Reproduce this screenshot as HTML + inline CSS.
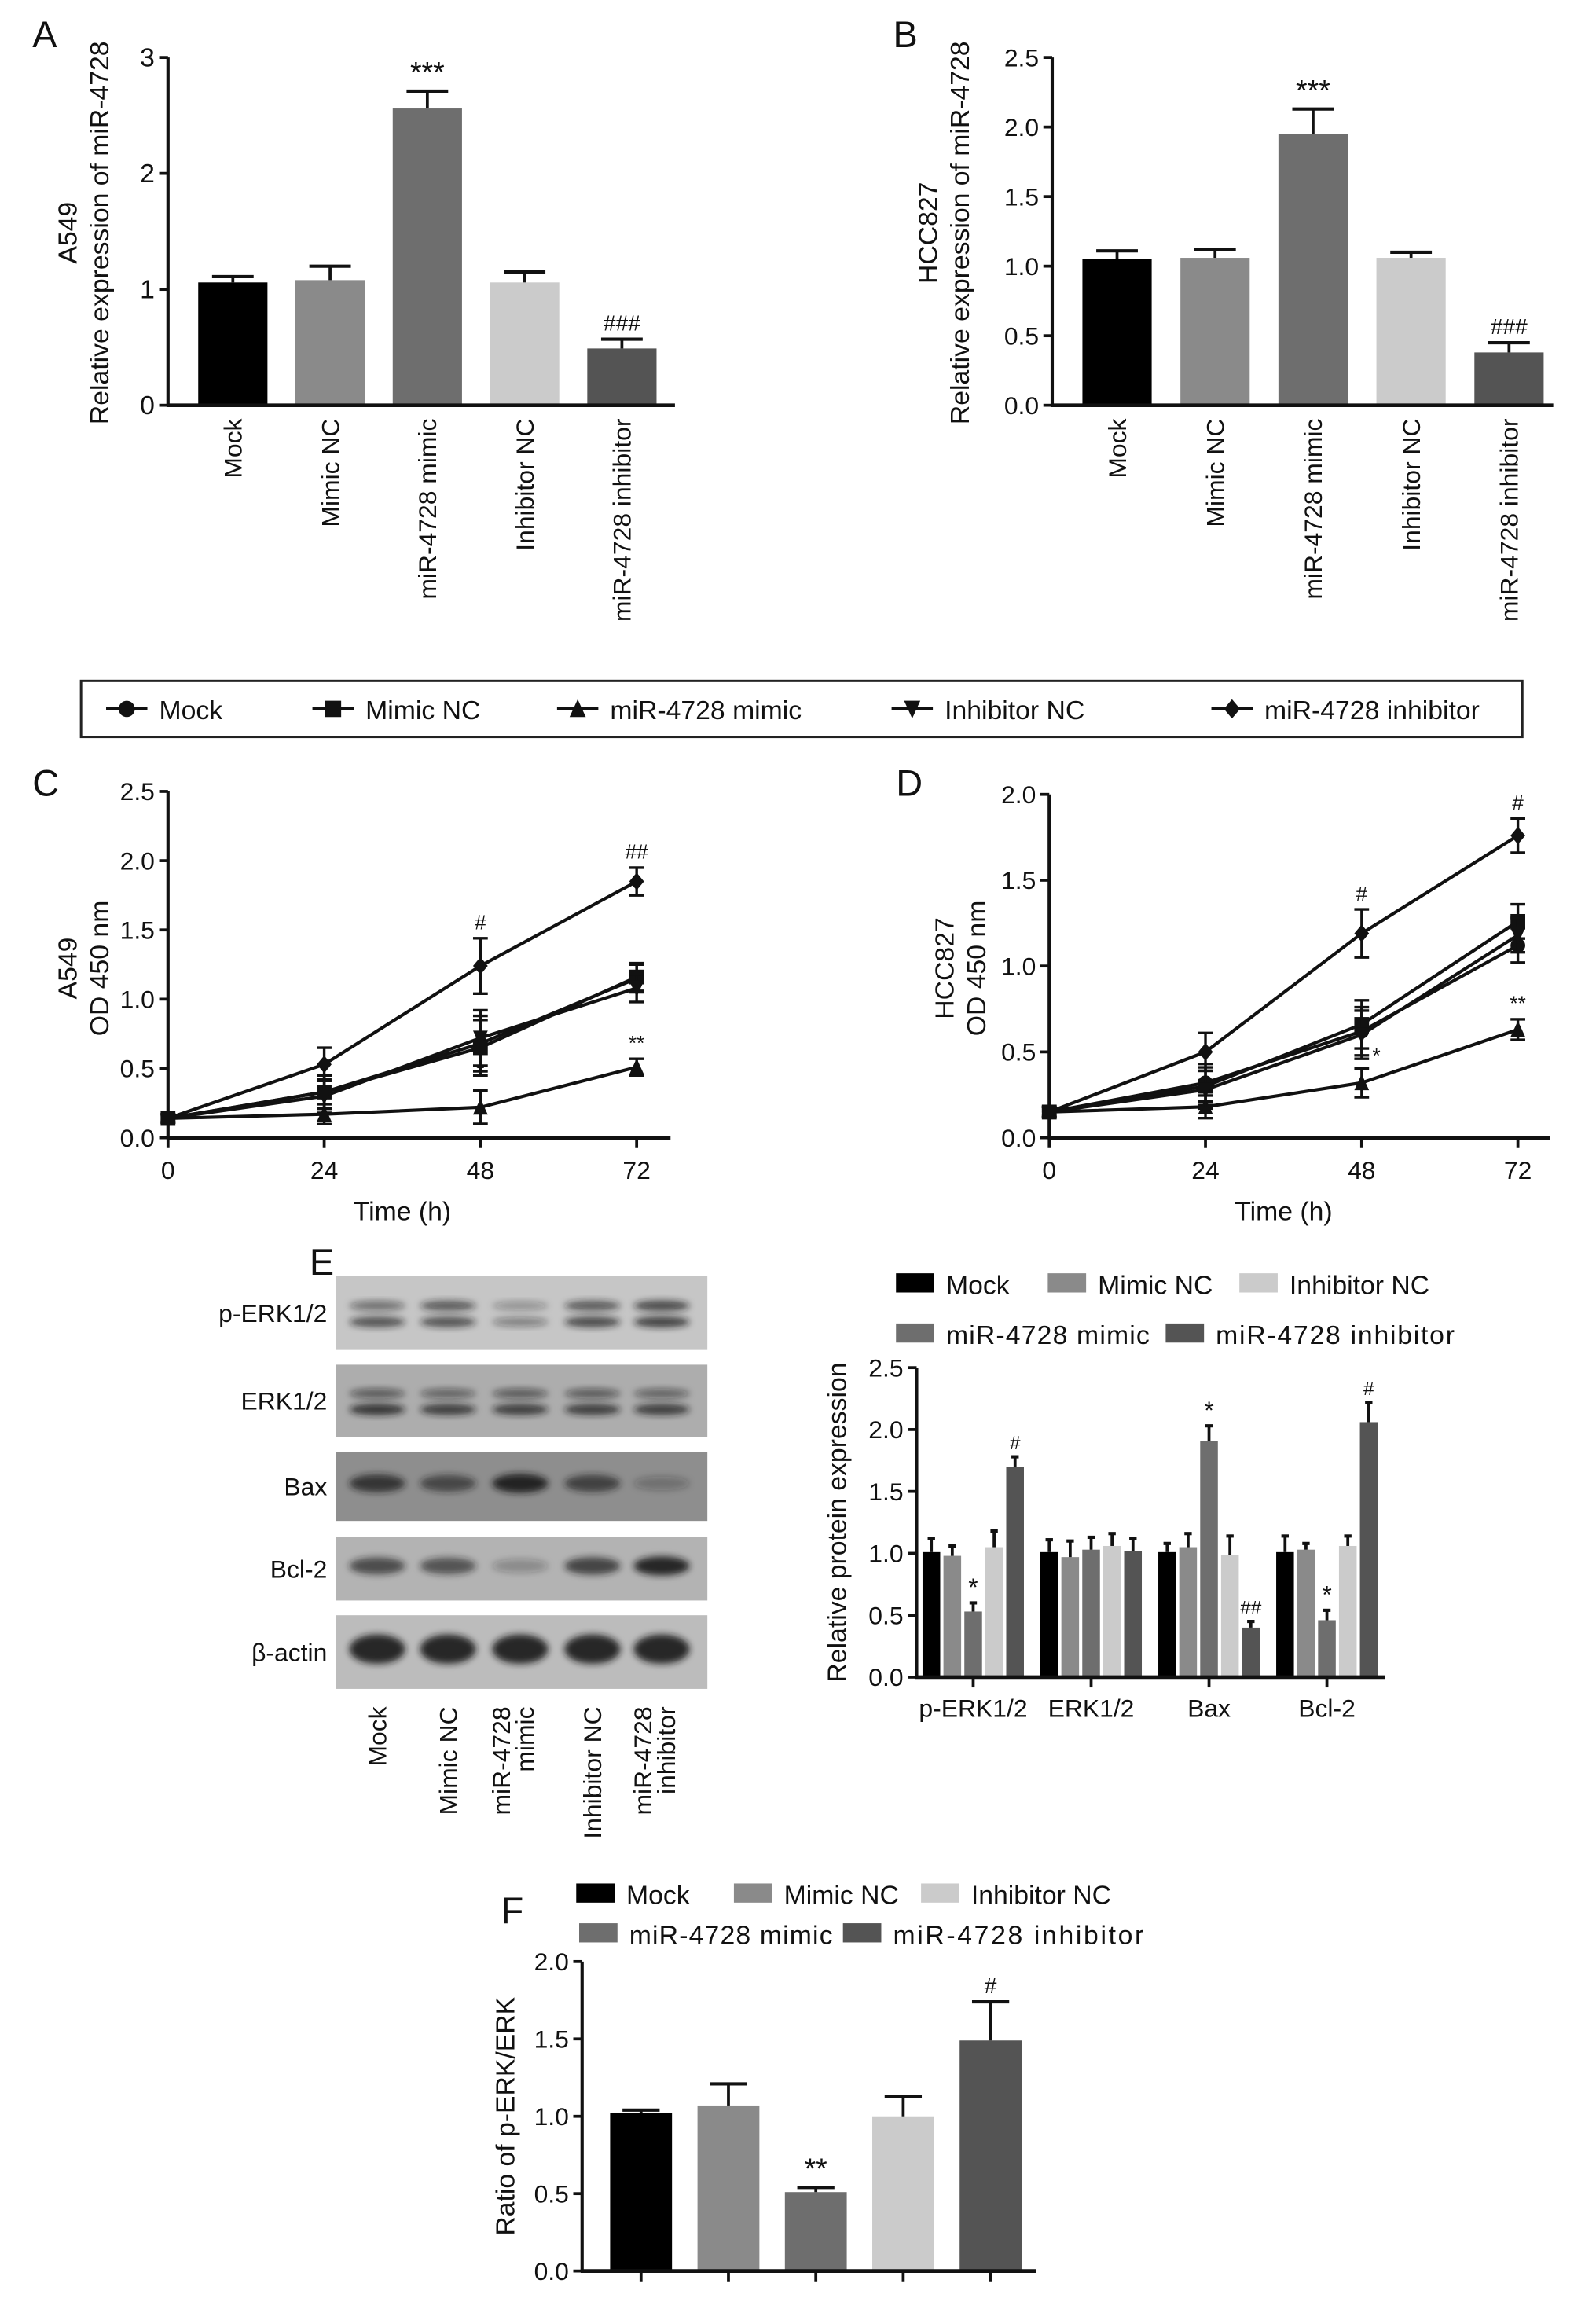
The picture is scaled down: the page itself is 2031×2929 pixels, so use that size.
<!DOCTYPE html>
<html><head><meta charset="utf-8">
<style>
html,body{margin:0;padding:0;background:#fff;}
svg{display:block;font-family:"Liberation Sans",Arial,sans-serif;}
</style></head>
<body>
<svg id="fig" width="2031" height="2929" viewBox="0 0 1083 1562" preserveAspectRatio="none" xmlns="http://www.w3.org/2000/svg">
<defs>
<filter id="blur2" x="-20%" y="-50%" width="140%" height="200%"><feGaussianBlur stdDeviation="2.2"/></filter>
</defs>
<rect width="1083" height="1562" fill="#fff"/>
</svg>
<script>
// ---------- DATA ----------
const groups = ["Mock","Mimic NC","miR-4728 mimic","Inhibitor NC","miR-4728 inhibitor"];
const groupColors = ["#000000","#8a8a8a","#6e6e6e","#cbcbcb","#545454"];

const aValues = [1.06,1.08,2.56,1.06,0.49];
const aErrors = [0.05,0.12,0.15,0.09,0.08];
const aMarks = ["","","***","","###"];
const aTicks = [0,1,2,3];

const bValues = [1.05,1.06,1.95,1.06,0.38];
const bErrors = [0.06,0.06,0.18,0.04,0.07];
const bMarks = ["","","***","","###"];
const bTicks = ["0.0","0.5","1.0","1.5","2.0","2.5"];

const times = [0,24,48,72];
const cMock = [0.14,0.33,0.68,1.15];
const cMimicNC = [0.14,0.33,0.65,1.16];
const cMimic = [0.14,0.17,0.22,0.51];
const cInhNC = [0.14,0.30,0.72,1.08];
const cInh = [0.14,0.53,1.24,1.85];
const cErr = [0.03,0.12,0.2,0.1];
const cTicks = ["0.0","0.5","1.0","1.5","2.0","2.5"];

const dMock = [0.15,0.32,0.62,1.12];
const dMimicNC = [0.15,0.30,0.66,1.26];
const dMimic = [0.15,0.18,0.32,0.63];
const dInhNC = [0.15,0.28,0.60,1.18];
const dInh = [0.15,0.50,1.19,1.76];
const dErr = [0.03,0.11,0.14,0.1];
const dTicks = ["0.0","0.5","1.0","1.5","2.0"];

const eCategories = ["p-ERK1/2","ERK1/2","Bax","Bcl-2"];
const eMock = [1.01,1.01,1.01,1.01];
const eMimicNC = [0.98,0.97,1.05,1.03];
const eMimic = [0.53,1.03,1.91,0.46];
const eInhNC = [1.05,1.06,0.99,1.06];
const eInh = [1.70,1.02,0.40,2.06];
const eErrMock = [0.11,0.1,0.07,0.13];
const eErrMimicNC = [0.08,0.13,0.11,0.05];
const eErrMimic = [0.07,0.1,0.12,0.08];
const eErrInhNC = [0.13,0.1,0.15,0.08];
const eErrInh = [0.08,0.1,0.05,0.16];
const eMarkMimic = ["*","","*","*"];
const eMarkInh = ["#","","##","#"];
const eTicks = ["0.0","0.5","1.0","1.5","2.0","2.5"];

const fValues = [1.02,1.07,0.51,1.00,1.49];
const fErrors = [0.02,0.14,0.03,0.13,0.25];
const fMarks = ["","","**","","#"];
const fTicks = ["0.0","0.5","1.0","1.5","2.0"];

const blotRows = ["p-ERK1/2","ERK1/2","Bax","Bcl-2","β-actin"];

// ---------- HELPERS ----------
const svg = document.getElementById('fig');
const NS = "http://www.w3.org/2000/svg";
function el(tag, attrs, parent){
  const e = document.createElementNS(NS, tag);
  for (const k in attrs) e.setAttribute(k, attrs[k]);
  (parent||svg).appendChild(e);
  return e;
}
function txt(s, x, y, size, anchor, parent, extra){
  const t = el('text', Object.assign({x:x, y:y, 'font-size':size, 'text-anchor':anchor||'start', fill:'#111'}, extra||{}), parent);
  t.textContent = s;
  return t;
}
function group(name){
  const g = el('g', {});
  
  
  return g;
}
function yAxis(g, x, y0, y1, ticks, fs){
  const ax = el('line', {x1:x, y1:y0+1, x2:x, y2:y1, stroke:'#111','stroke-width':2.2}, g);
  
  
  const n = ticks.length;
  ticks.forEach((t,i)=>{
    const y = y0 + (y1-y0)*i/(n-1);
    el('line',{x1:x-6,y1:y,x2:x,y2:y,stroke:'#111','stroke-width':2},g);
    const lab = txt(String(t), x-9, y+6, fs, 'end', g);
    
    
  });
}
function yTitle(g, lines, x, y, fs){
  lines.forEach((l,i)=>{
    const t = txt(l, 0, 0, fs, 'middle', g, {transform:`translate(${x+i*fs*1.2},${y}) rotate(-90)`});
    
    
  });
}
function errBar(g, cx, yTop, yErr, half){
  el('line',{x1:cx,y1:yTop,x2:cx,y2:yErr,stroke:'#111','stroke-width':2},g);
  el('line',{x1:cx-half,y1:yErr,x2:cx+half,y2:yErr,stroke:'#111','stroke-width':2.2},g);
}
function panelLabel(s,x,y){
  const t = txt(s,x,y,25,'start');
  
  
}

// ---------- BAR PANEL (A, B, F) ----------
function barPanel(name, opt, values, errors, marks, ticks){
  const g = group(name);
  const sy = v => opt.y0 - v/opt.max*(opt.y0-opt.y1);
  yAxis(g, opt.ax, opt.y0, opt.y1, ticks, opt.fs);
  values.forEach((v,i)=>{
    const cx = opt.first + i*opt.step;
    const r = el('rect',{x:cx-opt.bw/2, y:sy(v), width:opt.bw, height:opt.y0-sy(v), fill:groupColors[i]}, g);
    
    
    errBar(g, cx, sy(v), sy(v+errors[i]), opt.bw*0.3);
    if (marks[i]) {
      const m = txt(marks[i], cx, sy(v+errors[i])-6, marks[i][0]=='#'?15:20, 'middle', g);
      
      
    }
    if (opt.xlabels){
      const t = txt(groups[i], 0, 0, 17, 'end', g, {transform:`translate(${cx+6},${opt.y0+9}) rotate(-90)`});
      
      
    } else {
      el('line',{x1:cx,y1:opt.y0,x2:cx,y2:opt.y0+7,stroke:'#111','stroke-width':2},g);
    }
  });
  const xa = el('line',{x1:opt.ax-1,y1:opt.y0,x2:opt.xend,y2:opt.y0,stroke:'#111','stroke-width':2.5},g);
  
  
  return g;
}

// Panel A
panelLabel('A', 22, 32);
let gA = barPanel('panel-a-chart',{ax:114,y0:275,y1:39,max:3,first:158,step:66,bw:47,xend:458,fs:18,xlabels:true}, aValues,aErrors,aMarks,aTicks);
yTitle(gA, ["A549","Relative expression of miR-4728"], 52, 158, 18);

// Panel B
panelLabel('B', 606, 32);
let gB = barPanel('panel-b-chart',{ax:714,y0:275,y1:39,max:2.5,first:758,step:66.5,bw:47,xend:1054,fs:17,xlabels:true}, bValues,bErrors,bMarks,bTicks);
yTitle(gB, ["HCC827","Relative expression of miR-4728"], 636, 158, 18);

// ---------- MARKERS ----------
function marker(g, type, x, y, s){
  s = s||5.5;
  let m;
  if (type==='circle') m = el('circle',{cx:x,cy:y,r:s,fill:'#111'},g);
  else if (type==='square') m = el('rect',{x:x-s,y:y-s,width:2*s,height:2*s,fill:'#111'},g);
  else if (type==='up') m = el('polygon',{points:`${x},${y-s-1} ${x-s},${y+s} ${x+s},${y+s}`,fill:'#111'},g);
  else if (type==='down') m = el('polygon',{points:`${x},${y+s+1} ${x-s},${y-s} ${x+s},${y-s}`,fill:'#111'},g);
  else m = el('polygon',{points:`${x},${y-s-1} ${x+s},${y} ${x},${y+s+1} ${x-s},${y}`,fill:'#111'},g);
  
  
}
const markerTypes = ['circle','square','up','down','diamond'];

// Legend for C/D
(function(){
  const g = group('line-legend');
  el('rect',{x:55,y:462,width:978,height:38,fill:'#fff',stroke:'#222','stroke-width':1.6},g);
  const xs = [72,212,378,605,822];
  groups.forEach((n,i)=>{
    const e = el('g',{},g);
    
    
    el('line',{x1:xs[i],y1:481,x2:xs[i]+28,y2:481,stroke:'#111','stroke-width':2.2},e);
    marker(e, markerTypes[i], xs[i]+14, 481, 5.5);
    txt(n, xs[i]+36, 488, 18, 'start', e);
  });
})();

function linePanel(name, opt, series, errs, ticks, marks){
  const g = group(name);
  const sx = t => opt.ax + t/72*(opt.x72-opt.ax);
  const sy = v => opt.y0 - v/opt.max*(opt.y0-opt.y1);
  yAxis(g, opt.ax, opt.y0, opt.y1, ticks, 17);
  const xa = el('line',{x1:opt.ax-1,y1:opt.y0,x2:opt.xend,y2:opt.y0,stroke:'#111','stroke-width':2.5},g);
  
  
  times.forEach(t=>{
    el('line',{x1:sx(t),y1:opt.y0,x2:sx(t),y2:opt.y0+7,stroke:'#111','stroke-width':2},g);
    const l = txt(String(t), sx(t), opt.y0+28, 17, 'middle', g);
    
    
  });
  const xt = txt('Time (h)', (opt.ax+opt.x72)/2, opt.y0+56, 18, 'middle', g);
  
  
  series.forEach((s,i)=>{
    const pts = s.map((v,j)=>`${sx(times[j])},${sy(v)}`).join(' ');
    const pl = el('polyline',{points:pts,fill:'none',stroke:'#111','stroke-width':2.2},g);
    
    
    s.forEach((v,j)=>{
      const x = sx(times[j]);
      const e = errs[j]*(i===2?0.6:1);
      el('line',{x1:x,y1:sy(v-e),x2:x,y2:sy(v+e),stroke:'#111','stroke-width':1.8},g);
      el('line',{x1:x-5,y1:sy(v-e),x2:x+5,y2:sy(v-e),stroke:'#111','stroke-width':1.8},g);
      el('line',{x1:x-5,y1:sy(v+e),x2:x+5,y2:sy(v+e),stroke:'#111','stroke-width':1.8},g);
      marker(g, markerTypes[i], x, sy(v), 5);
    });
  });
  marks.forEach(m=>{
    const s = series[m.s];
    const v = s[m.j] + errs[m.j]*(m.s===2?0.6:1);
    const t = txt(m.t, sx(times[m.j])+(m.dx||0), sy(v)-(m.dy||6), 14, 'middle', g);
    
    
  });
  return g;
}

panelLabel('C', 22, 540);
let gC = linePanel('panel-c-chart',{ax:114,x72:432,y0:772,y1:537,max:2.5,xend:455},
  [cMock,cMimicNC,cMimic,cInhNC,cInh], cErr, cTicks,
  [{s:4,j:2,t:'#'},{s:4,j:3,t:'##'},{s:2,j:2,t:'*',dy:8},{s:2,j:3,t:'**'}]);
yTitle(gC, ["A549","OD 450 nm"], 52, 657, 18);

panelLabel('D', 608, 540);
let gD = linePanel('panel-d-chart',{ax:712,x72:1030,y0:772,y1:539,max:2.0,xend:1052},
  [dMock,dMimicNC,dMimic,dInhNC,dInh], dErr, dTicks,
  [{s:4,j:2,t:'#'},{s:4,j:3,t:'#'},{s:2,j:2,t:'*',dx:10,dy:4},{s:2,j:3,t:'**'}]);
yTitle(gD, ["HCC827","OD 450 nm"], 647, 657, 18);

// ---------- PANEL E BLOTS ----------
panelLabel('E', 210, 865);
(function(){
  const g = group('western-blot');
  const rows = [[866,916],[926,975],[985,1032],[1043,1086],[1096,1146]];
  const lanes = [256,304,353,402,449];
  const bg = ['#c6c6c6','#adadad','#8e8e8e','#b3b3b3','#bcbcbc'];
  const intens = [
    [[0.55,0.7,0.35,0.7,0.8],[0.75,0.75,0.45,0.8,0.85]],
    [[0.6,0.55,0.6,0.6,0.55],[0.9,0.85,0.85,0.85,0.85]],
    [[0.85,0.7,1.0,0.75,0.3]],
    [[0.75,0.7,0.3,0.8,1.0]],
    [[1,1,1,1,1]]
  ];
  rows.forEach((r,ri)=>{
    const rg = el('g',{},g);
    
    
    el('rect',{x:228,y:r[0],width:252,height:r[1]-r[0],fill:bg[ri]},rg);
    const bands = intens[ri];
    bands.forEach((b,bi)=>{
      const cy = bands.length===2 ? (r[0]+(r[1]-r[0])*(bi===0?0.4:0.62)) : (r[0]+r[1])/2-2;
      const ry = ri===4?10:(bands.length===2?4:6.5);
      lanes.forEach((lx,li)=>{
        el('ellipse',{cx:lx,cy:cy,rx:19,ry:ry*(0.6+0.4*b[li]),fill:'#1a1a1a','fill-opacity':b[li]*0.9,filter:'url(#blur2)'},rg);
      });
    });
    const t = txt(blotRows[ri], 222, (r[0]+r[1])/2+6, 17, 'end', rg);
    
  });
  const laneLabels = [["Mock"],["Mimic NC"],["miR-4728","mimic"],["Inhibitor NC"],["miR-4728","inhibitor"]];
  laneLabels.forEach((ls,i)=>{
    ls.forEach((l,k)=>{
      const off = ls.length===2 ? (k===0?-7:9) : 6;
      const t = txt(l, 0, 0, 17, 'end', g, {transform:`translate(${lanes[i]+off},${1158}) rotate(-90)`});
      
      
    });
  });
})();

// ---------- LEGEND HELPER (E, F) ----------
function boxLegend(name, items){
  const g = group(name);
  items.forEach(it=>{
    const e = el('g',{},g);
    
    
    el('rect',{x:it.x,y:it.y-7,width:26,height:13,fill:groupColors[it.i]},e);
    const t = txt(groups[it.i], it.x+34, it.y+7, 18, 'start', e);
    if (it.w) t.setAttribute('textLength', it.w);
  });
}

// ---------- PANEL E CHART ----------
boxLegend('panel-e-legend',[{i:0,x:608,y:871},{i:1,x:711,y:871},{i:3,x:841,y:871},{i:2,x:608,y:905,w:138},{i:4,x:791,y:905,w:162}]);
(function(){
  const g = group('panel-e-chart');
  const ax=622, y0=1138, y1=928, max=2.5;
  const sy = v => y0 - v/max*(y0-y1);
  yAxis(g, ax, y0, y1, eTicks, 17);
  yTitle(g, ["Relative protein expression"], 574, 1033, 18);
  const series = [eMock,eMimicNC,eMimic,eInhNC,eInh];
  const errs = [eErrMock,eErrMimicNC,eErrMimic,eErrInhNC,eErrInh];
  const bw = 12, bstep = 14.2, gStart = 626, gStep = 80;
  eCategories.forEach((c,ci)=>{
    series.forEach((s,si)=>{
      const x = gStart + ci*gStep + si*bstep;
      const r = el('rect',{x:x,y:sy(s[ci]),width:bw,height:y0-sy(s[ci]),fill:groupColors[si]},g);
      
      
      errBar(g, x+bw/2, sy(s[ci]), sy(s[ci]+errs[si][ci]), 2.5);
      const mk = si===2 ? eMarkMimic[ci] : (si===4 ? eMarkInh[ci] : '');
      if (mk){
        const t = txt(mk, x+bw/2, sy(s[ci]+errs[si][ci])-5, mk==='*'?17:13, 'middle', g);
        
        
      }
    });
    const cx = gStart + ci*gStep + 2*bstep + bw/2;
    el('line',{x1:cx,y1:y0,x2:cx,y2:y0+7,stroke:'#111','stroke-width':2},g);
    const t = txt(c, cx, y0+27, 17, 'middle', g);
    
    
  });
  const xa = el('line',{x1:ax-1,y1:y0,x2:940,y2:y0,stroke:'#111','stroke-width':2.5},g);
  
  
})();

// ---------- PANEL F ----------
panelLabel('F', 340, 1305);
boxLegend('panel-f-legend',[{i:0,x:391,y:1285},{i:1,x:498,y:1285},{i:3,x:625,y:1285},{i:2,x:393,y:1312,w:138},{i:4,x:572,y:1312,w:170}]);
let gF = barPanel('panel-f-chart',{ax:395,y0:1541,y1:1331,max:2.0,first:435,step:59.3,bw:42,xend:703,fs:17,xlabels:false}, fValues,fErrors,fMarks,fTicks);
yTitle(gF, ["Ratio of p-ERK/ERK"], 349, 1436, 18);
</script>
</body></html>
